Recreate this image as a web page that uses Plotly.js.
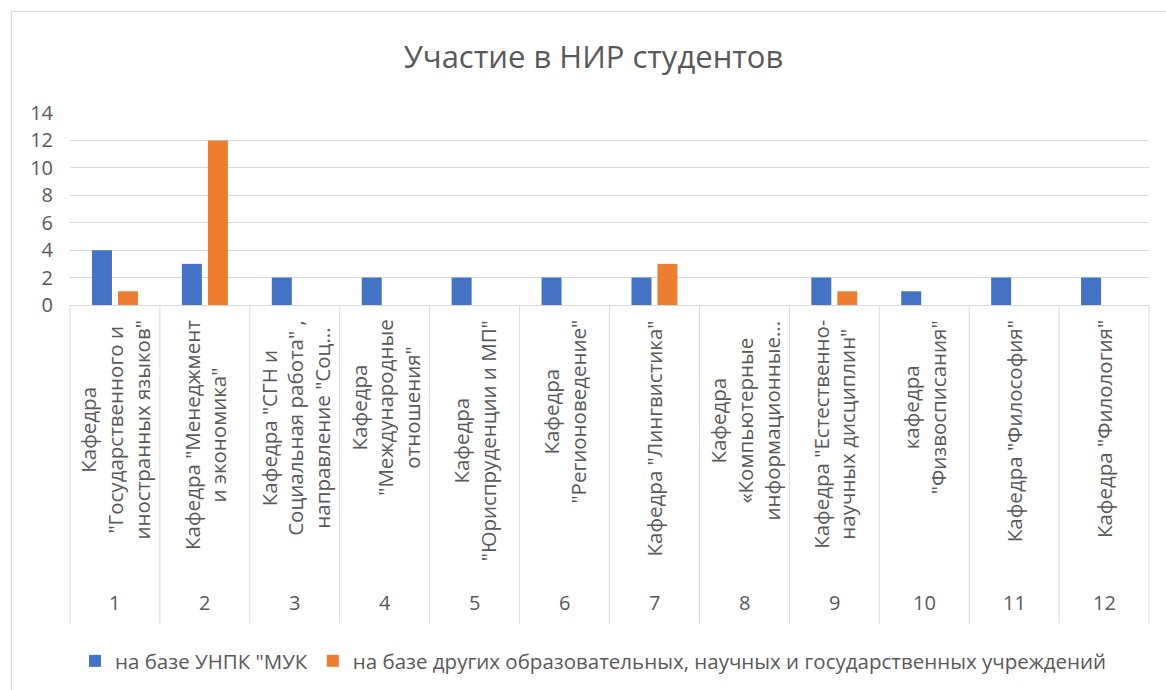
<!DOCTYPE html>
<html>
<head>
<meta charset="utf-8">
<script src="https://cdn.plot.ly/plotly-3.0.1.min.js"></script>
<style>
html,body{margin:0;padding:0;background:#fff;}
#chart{width:1166px;height:690px;}
#frame{position:absolute;left:11px;top:11px;width:1200px;height:700px;border-left:1px solid #d9d9d9;border-top:1px solid #d9d9d9;pointer-events:none;}
</style>
</head>
<body>
<div id="chart"></div>
<div id="frame"></div>
<script>
const categories = ["1","2","3","4","5","6","7","8","9","10","11","12"];
const departments = [
  "Кафедра<br>\"Государственного и<br>иностранных языков\"",
  "Кафедра \"Менеджмент<br>и экономика\"",
  "Кафедра \"СГН и<br>Социальная работа\" ,<br>направление \"Соц...",
  "Кафедра<br>\"Международные<br>отношения\"",
  "Кафедра<br>\"Юриспруденции и МП\"",
  "Кафедра<br>\"Регионоведение\"",
  "Кафедра \"Лингвистика\"",
  "Кафедра<br>«Компьютерные<br>информационные...",
  "Кафедра \"Естественно-<br>научных дисциплин\"",
  "кафедра<br>\"Физвосписания\"",
  "Кафедра \"Философия\"",
  "Кафедра \"Филология\""
];
const seriesNames = ["на базе УНПК \"МУК", "на базе других образовательных, научных и государственных учреждений"];
const valuesUNPK = [4,3,2,2,2,2,2,0,2,1,2,2];
const valuesOther = [1,12,0,0,0,0,3,0,1,0,0,0];
const yTicks = [0,2,4,6,8,10,12,14];

const FONT = "Open Sans, sans-serif";
const TXT = "#595959";
const GRID = "#d9d9d9";

const traces = [
  {type:"bar", name:seriesNames[0], x:categories, y:valuesUNPK, marker:{color:"#4472C4"}, hoverinfo:"none"},
  {type:"bar", name:seriesNames[1], x:categories, y:valuesOther, marker:{color:"#ED7D31"}, hoverinfo:"none"}
];

const annotations = [];
const shapes = [];
const n = categories.length;
categories.forEach((c,i)=>{
  annotations.push({xref:"x", yref:"paper", x:i, y:-0.068, yanchor:"top", xanchor:"center",
    text:departments[i], textangle:-90, align:"center", showarrow:false,
    font:{family:FONT, size:20.5, color:TXT}});
  annotations.push({xref:"x", yref:"paper", x:i, y:-1.547, yanchor:"middle", xanchor:"center",
    text:c, showarrow:false, font:{family:FONT, size:20, color:TXT}});
});
for(let k=0;k<=n;k++){
  shapes.push({type:"line", xref:"paper", yref:"paper", x0:k/n, x1:k/n, y0:0, y1:-1.661,
    line:{color:GRID, width:1}});
}

const layout = {
  width:1166, height:690,
  margin:{l:70, r:17, t:113, b:385},
  paper_bgcolor:"#fff", plot_bgcolor:"#fff",
  title:{text:"Участие в НИР студентов", font:{family:FONT, size:31, color:TXT},
    xref:"container", x:0.509, xanchor:"center", yref:"container", y:0.917, yanchor:"middle"},
  barmode:"group", bargap:0.422, bargroupgap:0.23,
  xaxis:{type:"category", showticklabels:false, showgrid:false, showline:true, linecolor:GRID, linewidth:1,
    ticks:"", zeroline:false, fixedrange:true},
  yaxis:{range:[0,14], tickvals:yTicks, showgrid:true, gridcolor:GRID, gridwidth:1, zeroline:false,
    showline:false, ticks:"", ticklabelstandoff:16, tickfont:{family:FONT, size:20, color:TXT}, fixedrange:true},
  showlegend:true,
  legend:{orientation:"h", xref:"container", yref:"container", x:0.509, xanchor:"center", y:0.042, yanchor:"middle",
    font:{family:FONT, size:20.5, color:TXT}, itemwidth:30, tracegroupgap:0, traceorder:"normal"},
  annotations:annotations,
  shapes:shapes
};

Plotly.newPlot("chart", traces, layout, {displayModeBar:false, staticPlot:true});
</script>
</body>
</html>
